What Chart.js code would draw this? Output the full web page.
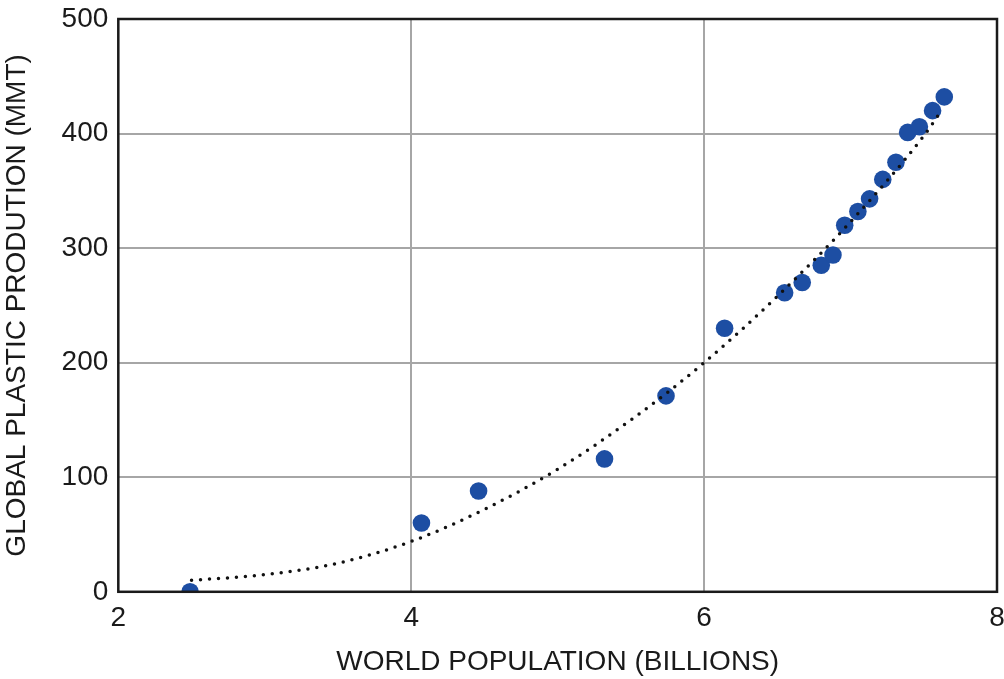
<!DOCTYPE html>
<html>
<head>
    <title>Plastic Production vs World Population</title>
    <script src="https://cdn.jsdelivr.net/npm/chart.js"></script>
    <style>
        html, body { margin: 0; padding: 0; background: #fff; }
        #wrap { width: 1004px; height: 679px; }
    </style>
</head>
<body>
    <div id="wrap"><canvas id="plasticChart" width="1004" height="679"></canvas></div>

    <script>
        // world population (billions) and global plastic production (MMT)
        const population = [2.49, 4.07, 4.46, 5.32, 5.74, 6.14, 6.55, 6.67, 6.80, 6.88,
                            6.96, 7.05, 7.13, 7.22, 7.31, 7.39, 7.47, 7.56, 7.64];
        const plastic = [0, 60, 88, 116, 171, 230, 261, 270, 285, 294,
                         320, 332, 343, 360, 375, 401, 406, 420, 432];

        // dotted trend curve
        const trendX = [2.5, 3.0, 3.5, 4.0, 4.5, 5.0, 5.5, 6.0, 6.5, 7.0, 7.5, 7.62];
        const trendY = [10, 15, 25, 44, 72, 107, 150, 200, 258, 323, 398, 420];

        const xTicks = [2, 4, 6, 8];
        const yTicks = [0, 100, 200, 300, 400, 500];

        const font = '"Liberation Sans", Arial, Helvetica, sans-serif';
        Chart.defaults.font.family = font;
        Chart.defaults.color = '#1a1a1a';

        // black frame round the plot area
        const frame = {
            id: 'frame',
            afterDatasetsDraw(chart) {
                const a = chart.chartArea;
                const ctx = chart.ctx;
                ctx.save();
                ctx.strokeStyle = '#1a1a1a';
                ctx.lineWidth = 2.5;
                ctx.strokeRect(a.left, a.top, a.right - a.left, a.bottom - a.top);
                ctx.restore();
            }
        };

        const ctx = document.getElementById('plasticChart').getContext('2d');
        new Chart(ctx, {
            type: 'scatter',
            data: {
                datasets: [
                    {
                        label: 'Trend',
                        type: 'line',
                        data: trendX.map((x, i) => ({ x: x, y: trendY[i] })),
                        borderColor: '#111',
                        borderWidth: 3.5,
                        borderDash: [0, 9],
                        borderCapStyle: 'round',
                        pointRadius: 0,
                        fill: false,
                        cubicInterpolationMode: 'monotone',
                    },
                    {
                        label: 'Production',
                        data: population.map((x, i) => ({ x: x, y: plastic[i] })),
                        backgroundColor: '#1d4ea3',
                        borderColor: '#1d4ea3',
                        pointRadius: 8.8,
                        pointBorderWidth: 0,
                    }
                ]
            },
            options: {
                responsive: false,
                animation: false,
                layout: { autoPadding: false, padding: { top: 19, right: 7, left: 0, bottom: 0 } },
                plugins: {
                    legend: { display: false },
                    tooltip: { enabled: false },
                },
                scales: {
                    x: {
                        type: 'linear',
                        min: 2,
                        max: 8,
                        afterBuildTicks: s => { s.ticks = xTicks.map(v => ({ value: v })); },
                        afterFit: s => { s.paddingLeft = 0; s.paddingRight = 0; },
                        ticks: { font: { size: 28 }, padding: 10 },
                        grid: { color: '#a6a6a6', lineWidth: 2, drawTicks: false },
                        border: { display: false },
                        title: {
                            display: true,
                            text: 'WORLD POPULATION (BILLIONS)',
                            font: { size: 28 },
                            padding: { top: 0, bottom: 0 },
                        }
                    },
                    y: {
                        min: 0,
                        max: 500,
                        afterBuildTicks: s => { s.ticks = yTicks.map(v => ({ value: v })); },
                        afterFit: s => { s.paddingTop = 0; s.paddingBottom = 0; },
                        ticks: { font: { size: 28 }, padding: 10 },
                        grid: { color: '#a6a6a6', lineWidth: 2, drawTicks: false },
                        border: { display: false },
                        title: {
                            display: true,
                            text: 'GLOBAL PLASTIC PRODUTION (MMT)',
                            font: { size: 28 },
                            padding: { top: 0, bottom: 18 },
                        }
                    }
                }
            },
            plugins: [frame]
        });
    </script>
</body>
</html>
